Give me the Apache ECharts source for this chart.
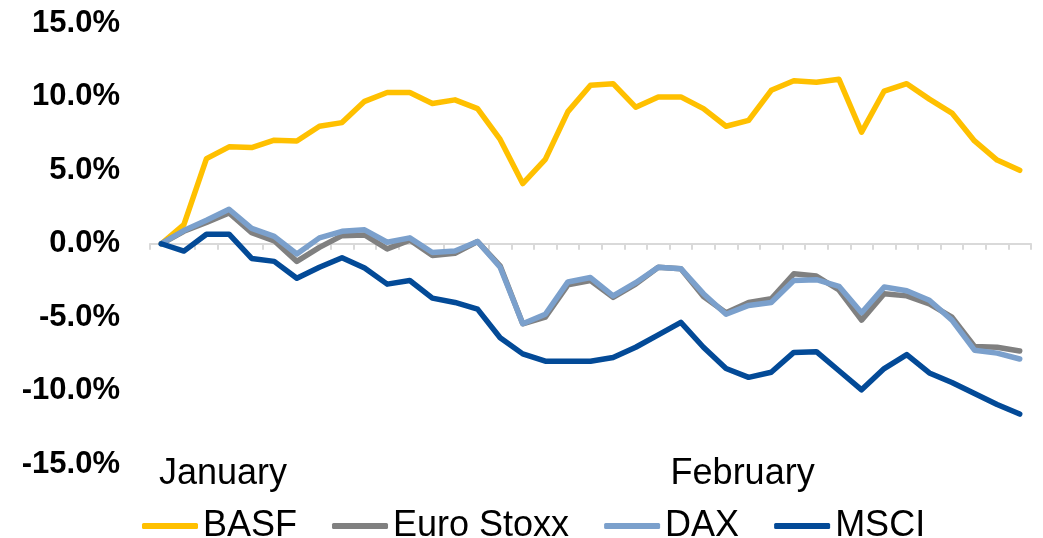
<!DOCTYPE html>
<html>
<head>
<meta charset="utf-8">
<script src="https://cdn.jsdelivr.net/npm/echarts@6/dist/echarts.min.js"></script>
<style>
html,body{margin:0;padding:0;background:#fff;}
#chart{width:1043px;height:538px;}
</style>
</head>
<body>
<div id="chart"></div>
<script>
// Trading days (39); month names shown at their positions
const categories = ['', '', '', 'January', '', '', '', '', '', '', '', '', '', '', '', '', '', '', '', '', '', '', '', '', '', '', 'February', '', '', '', '', '', '', '', '', '', '', '', ''];
const yTicks = [-15, -10, -5, 0, 5, 10, 15];
const seriesNames = ['BASF', 'Euro Stoxx', 'DAX', 'MSCI'];
const basf = [0, 1.3, 5.8, 6.6, 6.55, 7.05, 7.0, 8.0, 8.25, 9.7, 10.3, 10.3, 9.55, 9.8, 9.2, 7.1, 4.1, 5.75, 9.0, 10.8, 10.9, 9.3, 10.0, 10.0, 9.2, 8.0, 8.4, 10.45, 11.1, 11.0, 11.2, 7.6, 10.4, 10.9, 9.85, 8.9, 7.0, 5.7, 5.0];
const euroStoxx = [0, 0.85, 1.45, 2.1, 0.75, 0.2, -1.2, -0.25, 0.55, 0.6, -0.35, 0.25, -0.8, -0.65, 0.15, -1.5, -5.45, -5.0, -2.8, -2.5, -3.65, -2.75, -1.6, -1.7, -3.6, -4.7, -4.0, -3.75, -2.05, -2.2, -3.15, -5.2, -3.4, -3.55, -4.1, -5.0, -7.0, -7.05, -7.3];
const dax = [0, 0.9, 1.6, 2.35, 1.05, 0.5, -0.7, 0.4, 0.85, 0.95, 0.1, 0.4, -0.6, -0.5, 0.15, -1.6, -5.45, -4.8, -2.6, -2.3, -3.55, -2.65, -1.6, -1.7, -3.4, -4.8, -4.2, -4.0, -2.5, -2.45, -2.9, -4.7, -2.95, -3.2, -3.85, -5.2, -7.25, -7.45, -7.85];
const msci = [0, -0.5, 0.65, 0.65, -1.0, -1.2, -2.35, -1.6, -0.95, -1.65, -2.75, -2.5, -3.7, -4.0, -4.45, -6.4, -7.5, -8.0, -8.0, -8.0, -7.75, -7.05, -6.2, -5.35, -7.05, -8.5, -9.1, -8.75, -7.4, -7.35, -8.65, -9.95, -8.5, -7.55, -8.8, -9.45, -10.2, -10.95, -11.6];

const colors = ['#FFC000', '#808080', '#7BA0CC', '#034A97'];
const values = [basf, euroStoxx, dax, msci];
const FONT = '"Liberation Sans", Arial, sans-serif';

const chart = echarts.init(document.getElementById('chart'), null, {renderer: 'canvas'});
chart.setOption({
  animation: false,
  backgroundColor: '#fff',
  grid: {left: 150, right: 12, top: 23.5, bottom: 74, containLabel: false},
  legend: {
    data: seriesNames,
    left: 137,
    top: 503,
    icon: 'roundRect',
    itemWidth: 56,
    itemHeight: 6,
    itemGap: 35,
    textStyle: {fontSize: 36, color: '#000', fontFamily: FONT}
  },
  xAxis: [
    {
      type: 'category',
      data: categories,
      boundaryGap: true,
      axisLine: {show: true, onZero: true, lineStyle: {color: '#D9D9D9', width: 2}},
      axisTick: {show: true, length: 6, interval: 0, lineStyle: {color: '#D9D9D9', width: 2}},
      axisLabel: {show: false},
      splitLine: {show: false}
    },
    {
      type: 'category',
      data: categories,
      boundaryGap: true,
      position: 'bottom',
      axisLine: {show: false, onZero: false},
      axisTick: {show: false},
      axisLabel: {
        show: true, interval: 0, margin: -8,
        fontSize: 36, color: '#000', fontFamily: FONT,
        padding: [0, 12, 0, 0]
      },
      splitLine: {show: false}
    }
  ],
  yAxis: {
    type: 'value',
    min: yTicks[0],
    max: yTicks[yTicks.length - 1],
    interval: 5,
    axisLine: {show: false},
    axisTick: {show: false},
    splitLine: {show: false},
    axisLabel: {
      margin: 30,
      fontSize: 31,
      fontWeight: 'bold',
      color: '#000',
      fontFamily: FONT,
      formatter: v => v.toFixed(1) + '%'
    }
  },
  series: seriesNames.map((name, i) => ({
    name: name,
    type: 'line',
    xAxisIndex: 0,
    data: values[i],
    showSymbol: false,
    symbol: 'none',
    smooth: false,
    color: colors[i],
    lineStyle: {color: colors[i], width: 5.5, join: 'round', cap: 'round'},
    z: 2 + i
  }))
});
</script>
</body>
</html>
